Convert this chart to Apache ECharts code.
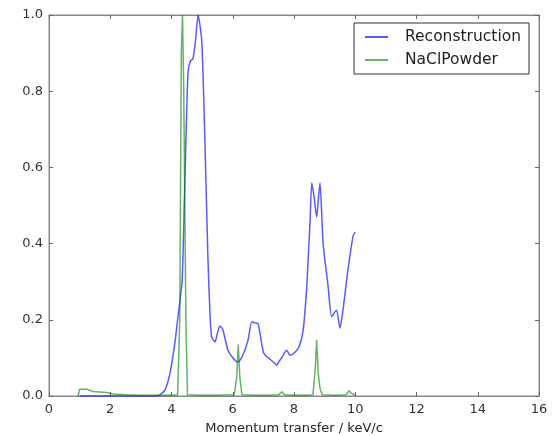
<!DOCTYPE html>
<html>
<head>
<meta charset="utf-8">
<script src="https://cdn.jsdelivr.net/npm/echarts@6/dist/echarts.min.js"></script>
<style>
  html, body { margin: 0; padding: 0; background: #fff; }
  #chart { width: 553px; height: 436px; }
</style>
</head>
<body>
<div id="chart"></div>
<script>
var xTicks = [0, 2, 4, 6, 8, 10, 12, 14, 16];
var yTicks = [0.0, 0.2, 0.4, 0.6, 0.8, 1.0];

// Reconstruction (blue)
var reconX = [1.0, 2.0, 3.0, 3.5, 3.62, 3.79, 3.95, 4.11, 4.21, 4.34, 4.38, 4.47, 4.54, 4.62, 4.70, 4.78, 4.87,
  4.99, 5.09, 5.19, 5.26, 5.31, 5.42, 5.50, 5.58, 5.68, 5.84, 6.01, 6.17, 6.33, 6.50, 6.62, 6.72, 6.83,
  7.0, 7.16, 7.32, 7.44, 7.52, 7.6, 7.68, 7.76, 7.87, 8.03, 8.17, 8.3, 8.41, 8.46, 8.52, 8.58, 8.66,
  8.74, 8.80, 8.85, 8.95, 9.11, 9.23, 9.33, 9.39, 9.50, 9.6, 9.76, 9.93, 10.0];
var reconY = [0.0, 0.0, 0.0, 0.0, 0.003, 0.016, 0.06, 0.139, 0.207, 0.296, 0.383, 0.67, 0.85, 0.88, 0.885, 0.93, 1.0,
  0.93, 0.67, 0.36, 0.21, 0.155, 0.142, 0.165, 0.184, 0.173, 0.121, 0.10, 0.089, 0.107, 0.147, 0.195, 0.192, 0.19,
  0.115, 0.10, 0.09, 0.081, 0.092, 0.10, 0.112, 0.12, 0.107, 0.115, 0.13, 0.173, 0.278, 0.357, 0.45, 0.56, 0.52,
  0.47, 0.52, 0.56, 0.40, 0.29, 0.208, 0.22, 0.226, 0.178, 0.226, 0.33, 0.42, 0.43];

// NaClPowder (green)
var powderX = [0.95, 1.0, 1.23, 1.44, 1.88, 2.1, 2.54, 3.0, 3.5, 4.0, 4.2, 4.27, 4.32, 4.36, 4.40, 4.47, 4.52,
  5.0, 5.5, 6.05, 6.13, 6.18, 6.23, 6.30, 6.8, 7.2, 7.5, 7.6, 7.7, 8.0, 8.3, 8.62, 8.70, 8.74, 8.79, 8.85,
  8.92, 9.3, 9.7, 9.8, 9.86, 9.92, 10.0];
var powderY = [0.0, 0.018, 0.018, 0.012, 0.009, 0.005, 0.003, 0.002, 0.002, 0.002, 0.003, 0.2, 0.9, 1.0, 0.8, 0.2, 0.003,
  0.002, 0.002, 0.003, 0.05, 0.135, 0.05, 0.003, 0.002, 0.002, 0.003, 0.011, 0.003, 0.002, 0.002, 0.003, 0.08, 0.147, 0.06, 0.02,
  0.003, 0.002, 0.003, 0.014, 0.008, 0.003, 0.002];

function pairs(xs, ys) {
  return xs.map(function (x, i) { return [x, ys[i]]; });
}

var chart = echarts.init(document.getElementById('chart'), null, { renderer: 'canvas' });
var font = 'DejaVu Sans';
var axisLine = { show: true, onZero: false, lineStyle: { color: '#888', width: 1 } };
var tick = { show: true, inside: true, length: 4, lineStyle: { color: '#666' } };

var option = {
  animation: false,
  backgroundColor: '#fff',
  grid: {
    left: 49, top: 15, right: 14, bottom: 40,
    outerBoundsMode: 'none', containLabel: false,
    show: true, borderColor: '#888', borderWidth: 1
  },
  legend: {
    orient: 'vertical',
    left: 354,
    top: 23,
    padding: [6, 8, 6, 11],
    itemGap: 7,
    borderColor: '#333',
    borderWidth: 1,
    icon: 'rect',
    itemWidth: 23,
    itemHeight: 2,
    textStyle: { fontFamily: font, fontSize: 15.5, color: '#222', padding: [0, 0, 0, 12] },
    data: ['Reconstruction', 'NaClPowder']
  },
  xAxis: [{
    type: 'value',
    min: 0, max: 16, interval: 2,
    axisLine: axisLine,
    axisTick: tick,
    splitLine: { show: false },
    axisLabel: { fontFamily: font, fontSize: 13, color: '#333', margin: 7 },
    name: 'Momentum transfer / keV/c',
    nameLocation: 'middle',
    nameGap: 26,
    nameTextStyle: { fontFamily: font, fontSize: 13, color: '#222' }
  }, {
    type: 'value', position: 'top', show: true,
    min: 0, max: 16, interval: 2,
    axisLine: axisLine,
    axisTick: tick,
    splitLine: { show: false },
    axisLabel: { show: false }
  }],
  yAxis: [{
    type: 'value',
    min: 0, max: 1, interval: 0.2,
    axisLine: axisLine,
    axisTick: tick,
    splitLine: { show: false },
    axisLabel: {
      fontFamily: font, fontSize: 13, color: '#333', margin: 6,
      formatter: function (v) { return v.toFixed(1); }
    }
  }, {
    type: 'value', position: 'right', show: true,
    min: 0, max: 1, interval: 0.2,
    axisLine: axisLine,
    axisTick: tick,
    splitLine: { show: false },
    axisLabel: { show: false }
  }],
  series: [{
    name: 'Reconstruction',
    type: 'line',
    data: pairs(reconX, reconY),
    showSymbol: false,
    symbol: 'none',
    smooth: 0.2,
    color: 'rgba(0,0,255,0.65)',
    lineStyle: { width: 1.5, color: 'rgba(0,0,255,0.65)' },
    z: 2
  }, {
    name: 'NaClPowder',
    type: 'line',
    data: pairs(powderX, powderY),
    showSymbol: false,
    symbol: 'none',
    color: 'rgba(0,128,0,0.6)',
    lineStyle: { width: 1.5, color: 'rgba(0,128,0,0.6)' },
    z: 3
  }, {
    // invisible helper so the top/right frame axes get their ticks
    type: 'line', xAxisIndex: 1, yAxisIndex: 1,
    data: [], silent: true
  }]
};
chart.setOption(option);
</script>
</body>
</html>
